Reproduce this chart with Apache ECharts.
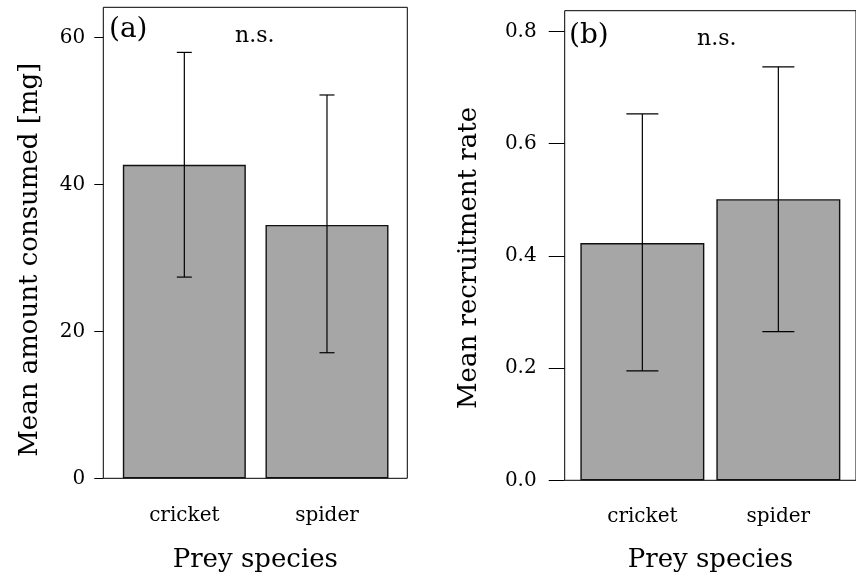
<!DOCTYPE html>
<html>
<head>
<meta charset="utf-8">
<script src="https://cdn.jsdelivr.net/npm/echarts@6/dist/echarts.min.js"></script>
<style>html,body{margin:0;padding:0;background:#fff}#c{width:856px;height:579px}</style>
</head>
<body>
<div id="c"></div>
<script>
// ---- data ----
const categories = ['cricket', 'spider'];
const amountMean = [42.7, 34.5];
const amountLow = [27.4, 17.1];
const amountHigh = [58.0, 52.2];
const rateMean = [0.423, 0.501];
const rateLow = [0.195, 0.265];
const rateHigh = [0.653, 0.737];
const amountTicks = [0, 20, 40, 60];
const rateTicks = [0, 0.2, 0.4, 0.6, 0.8];
const panelLabels = ['(a)', '(b)'];
const sigLabels = ['n.s.', 'n.s.'];
const yTitles = ['Mean amount consumed [mg]', 'Mean recruitment rate'];
const xTitle = 'Prey species';

const FONT = 'DejaVu Serif';
const catPos = categories.map((c, i) => i + 1);

function barData(vals) { return vals.map((v, i) => [catPos[i], v]); }
function errData(lo, hi) { return lo.map((v, i) => [catPos[i], v, hi[i]]); }
function errRender(capHalf) {
  return function (params, api) {
    const x = api.value(0);
    const lo = api.coord([x, api.value(1)]);
    const hi = api.coord([x, api.value(2)]);
    const st = { stroke: '#000', lineWidth: 1.2 };
    return {
      type: 'group',
      children: [
        { type: 'line', shape: { x1: lo[0], y1: lo[1], x2: hi[0], y2: hi[1] }, style: st },
        { type: 'line', shape: { x1: lo[0] - capHalf, y1: lo[1], x2: lo[0] + capHalf, y2: lo[1] }, style: st },
        { type: 'line', shape: { x1: hi[0] - capHalf, y1: hi[1], x2: hi[0] + capHalf, y2: hi[1] }, style: st }
      ]
    };
  };
}

const chart = echarts.init(document.getElementById('c'), null, { renderer: 'canvas' });
const txt = { color: '#000', fontFamily: FONT };

function xAxisCfg(gi, min, max, gap, margin) {
  return {
    gridIndex: gi, type: 'value', min: min, max: max,
    axisLine: { show: false }, axisTick: { show: false }, splitLine: { show: false },
    axisLabel: {
      customValues: catPos, margin: margin,
      formatter: v => categories[Math.round(v) - 1] || '',
      ...txt, fontSize: 20
    },
    name: xTitle, nameLocation: 'middle', nameGap: gap,
    nameTextStyle: { ...txt, fontSize: 26 }
  };
}
function yAxisCfg(gi, max, ticks, tickLen, margin, name, gap, shift, fmt) {
  return {
    gridIndex: gi, type: 'value', min: 0, max: max,
    axisLine: { show: false },
    axisTick: { show: true, customValues: ticks, length: tickLen, lineStyle: { color: '#000', width: 1 } },
    axisLabel: { customValues: ticks, margin: margin, formatter: fmt, ...txt, fontSize: 20 },
    splitLine: { show: false },
    name: name, nameLocation: 'middle', nameRotate: 90, nameGap: gap,
    nameTextStyle: { ...txt, fontSize: 26, padding: [0, shift, 0, 0] }
  };
}

chart.setOption({
  animation: false,
  backgroundColor: '#fff',
  title: [
    { text: panelLabels[0], left: 109, top: 16, padding: 0, textStyle: { ...txt, fontSize: 28, fontWeight: 'normal' } },
    { text: sigLabels[0], left: 235, top: 25, padding: 0, textStyle: { ...txt, fontSize: 22, fontWeight: 'normal' } },
    { text: panelLabels[1], left: 569, top: 22, padding: 0, textStyle: { ...txt, fontSize: 28, fontWeight: 'normal' } },
    { text: sigLabels[1], left: 697, top: 28, padding: 0, textStyle: { ...txt, fontSize: 22, fontWeight: 'normal' } }
  ],
  grid: [
    { left: 103.3, top: 7.3, width: 304, height: 471, show: true, borderColor: '#000', borderWidth: 1, backgroundColor: 'transparent' },
    { left: 564.7, top: 10.7, width: 298.6, height: 469.6, show: true, borderColor: '#000', borderWidth: 1, backgroundColor: 'transparent' }
  ],
  xAxis: [
    xAxisCfg(0, 0.432, 2.563, 69, 27),
    xAxisCfg(1, 0.429, 2.571, 67, 26)
  ],
  yAxis: [
    yAxisCfg(0, 64.14, amountTicks, 9, 18, yTitles[0], 60, 34, v => String(v)),
    yAxisCfg(1, 0.837, rateTicks, 16, 28, yTitles[1], 82, 25, v => v.toFixed(1))
  ],
  series: [
    { type: 'bar', xAxisIndex: 0, yAxisIndex: 0, data: barData(amountMean), barWidth: 123,
      itemStyle: { color: '#a6a6a6', borderColor: '#111', borderWidth: 1.4 } },
    { type: 'custom', xAxisIndex: 0, yAxisIndex: 0, data: errData(amountLow, amountHigh), renderItem: errRender(7.5), z: 5 },
    { type: 'bar', xAxisIndex: 1, yAxisIndex: 1, data: barData(rateMean), barWidth: 124,
      itemStyle: { color: '#a6a6a6', borderColor: '#111', borderWidth: 1.4 } },
    { type: 'custom', xAxisIndex: 1, yAxisIndex: 1, data: errData(rateLow, rateHigh), renderItem: errRender(16), z: 5 }
  ]
});
</script>
</body>
</html>
